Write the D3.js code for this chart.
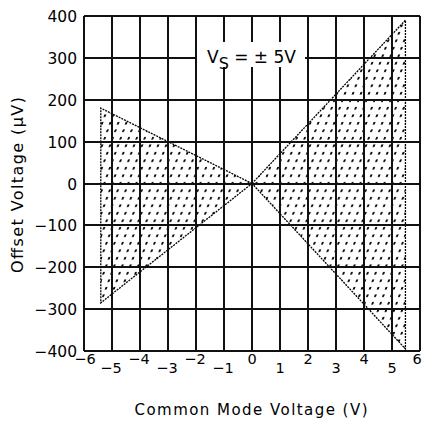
<!DOCTYPE html>
<html><head><meta charset="utf-8">
<script src="https://cdn.jsdelivr.net/npm/d3@7"></script>
<style>body{margin:0;background:#fff}svg{display:block}text{font-family:"DejaVu Sans",sans-serif;fill:#000}</style>
</head><body><svg id="c" width="422" height="425"></svg>
<script>
const xTicks = [-6,-5,-4,-3,-2,-1,0,1,2,3,4,5,6];
const yTicks = [-400,-300,-200,-100,0,100,200,300,400];
// [x, upper offset, lower offset] at origin and at the end of each region
const leftRegion = [[0,0,0],[-5.4,180,-285]];
const rightRegion = [[0,0,0],[5.48,390,-395]];

const svg = d3.select("#c");
const L=84,R=420,T=16,B=351;
const x = d3.scaleLinear().domain([-6,6]).range([L,R]);
const y = d3.scaleLinear().domain([-400,400]).range([B,T]);

const defs = svg.append("defs");
const pat = defs.append("pattern").attr("id","dots").attr("patternUnits","userSpaceOnUse")
  .attr("width",8).attr("height",7.5).attr("patternTransform","skewX(-20)");
pat.append("rect").attr("x",2).attr("y",2).attr("width",2).attr("height",2.5).attr("fill","#000");

function tri(reg){
  const [o,e]=reg;
  return [[x(o[0]),y(o[1])],[x(e[0]),y(e[1])],[x(e[0]),y(e[2])]];
}
[leftRegion,rightRegion].forEach(r=>{
  svg.append("polygon").attr("points",tri(r).map(p=>p.join(",")).join(" "))
    .attr("fill","url(#dots)").attr("stroke","#000").attr("stroke-width",1.3)
    .attr("stroke-dasharray","2,1");
});

const g = svg.append("g").attr("stroke","#111").attr("stroke-width",2).attr("shape-rendering","crispEdges");
xTicks.forEach(v=>g.append("line").attr("x1",x(v)).attr("x2",x(v)).attr("y1",T).attr("y2",B));
yTicks.forEach(v=>g.append("line").attr("x1",L).attr("x2",R).attr("y1",y(v)).attr("y2",y(v)));

// label box
svg.append("rect").attr("x",197).attr("y",42).attr("width",108).attr("height",25).attr("fill","#fff");
const lab = svg.append("text").attr("x",207).attr("y",63).attr("font-size",17);
lab.append("tspan").text("V");
lab.append("tspan").attr("dy",6).attr("font-size",16).text("S");
lab.append("tspan").attr("dy",-6).text(" = ± 5V");

// y tick labels
yTicks.forEach(v=>svg.append("text").attr("x",77).attr("y",y(v)+6).attr("text-anchor","end")
  .attr("font-size",15.5).text(v<0?"\u2212"+Math.abs(v):v));
// x tick labels, staggered
xTicks.forEach(v=>{
  const even = v%2===0;
  let dx = v<0?-1:0;
  if(v===6) dx=-3;
  if(v===-6) dx=1;
  svg.append("text").attr("x",x(v)+dx).attr("y",even?364:373).attr("text-anchor","middle")
    .attr("font-size",14.5).text(v<0?"\u2212"+Math.abs(v):v);
});

svg.append("text").attr("x",251).attr("y",415).attr("text-anchor","middle").attr("font-size",15)
  .attr("textLength",233).attr("lengthAdjust","spacing").text("Common Mode Voltage (V)");
svg.append("text").attr("transform","translate(23,185) rotate(-90)").attr("text-anchor","middle")
  .attr("font-size",16).attr("textLength",176).attr("lengthAdjust","spacing").text("Offset Voltage (\u03bcV)");
</script></body></html>
